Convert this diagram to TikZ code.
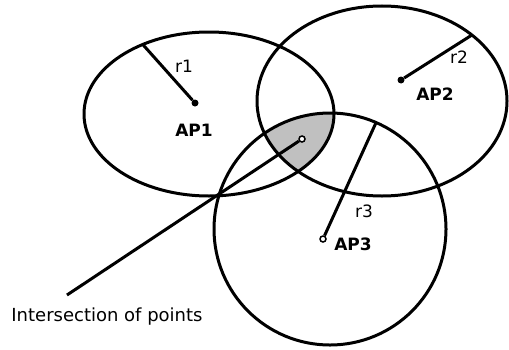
\documentclass[tikz,border=0pt]{standalone}
\usepackage{fontspec}
\setmainfont{DejaVu Sans}
\definecolor{customgray}{RGB}{192, 192, 192}
\usepackage{tikz}
\usetikzlibrary{positioning}

\begin{document}
\begin{tikzpicture}[x=1bp, y=1bp,
    rim/.style={line width=3bp},
    apdot/.style={circle, fill=black, inner sep=0pt, minimum size=7bp},
    ringdot/.style={circle, draw, fill=white, line width=1.5bp, inner sep=0pt, minimum size=6bp},
    lbl/.style={inner sep=0pt, font=\fontsize{17bp}{20bp}\selectfont},
    aplbl/.style={lbl, font=\fontsize{17bp}{20bp}\selectfont\bfseries}]
    \useasboundingbox (0,0) rectangle (509,349);
    \coordinate (c1) at (209,235);
    \coordinate (c2) at (382,248);
    \coordinate (c3) at (330,120);
    % shaded common area
    \begin{scope}
        \clip (c1) ellipse [x radius=125, y radius=82];
        \clip (c2) ellipse [x radius=125, y radius=95];
        \fill[customgray] (c3) circle [radius=116];
    \end{scope}
    \draw[rim] (c1) ellipse [x radius=125, y radius=82];
    \draw[rim] (c2) ellipse [x radius=125, y radius=95];
    \draw[rim] (c3) circle [radius=116];
    % radius ends on the rims
    \path (c1) ++(122:125 and 82) coordinate (r1end);
    \path (c2) ++(44:125 and 95) coordinate (r2end);
    \path (c3) ++(66.6:116) coordinate (r3end);
    \coordinate (ptr) at (67,54);
    % access points
    \node[apdot] (ap1) at (195,246) {};
    \node[apdot] (ap2) at (401,269) {};
    \node[ringdot] (ap3) at (323,110) {};
    \node[ringdot] (isect) at (302,210) {};
    \draw[rim] (ap1) -- (r1end);
    \draw[rim] (ap2) -- (r2end);
    \draw[rim] (ap3) -- (r3end);
    \draw[rim] (isect) -- (ptr);
    % labels
    \node[lbl] (r1) at (184,283) {r1};
    \node[lbl] (r2) at (459,292) {r2};
    \node[lbl] (r3) at (364,138) {r3};
    \node[aplbl] (ap1lbl) at (194,219) {AP1};
    \node[aplbl] (ap2lbl) at (435,255) {AP2};
    \node[aplbl] (ap3lbl) at (353,105) {AP3};
    \node[lbl, font=\fontsize{18bp}{21bp}\selectfont] (isectlbl) at (107,32) {Intersection of points};
\end{tikzpicture}
\end{document}
